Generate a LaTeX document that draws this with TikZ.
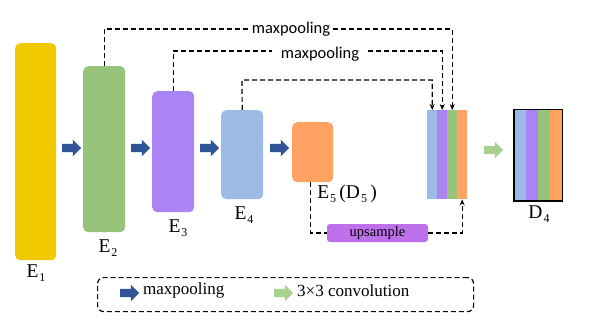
\documentclass[tikz,border=0pt]{standalone}
\usepackage{fontspec}
\setmainfont{Liberation Serif}
\newfontfamily\labfont{Carlito}
\usetikzlibrary{shapes.arrows,arrows.meta}
\definecolor{cyel}{RGB}{240,200,0}
\definecolor{cgrn}{RGB}{152,195,122}
\definecolor{cpur}{RGB}{170,132,244}
\definecolor{cblu}{RGB}{155,187,230}
\definecolor{cora}{RGB}{255,162,98}
\definecolor{cups}{RGB}{190,112,235}
\definecolor{cdarr}{RGB}{47,85,151}
\definecolor{cgarr}{RGB}{169,209,142}
\newcommand{\sub}[1]{\kern1pt\raisebox{-4pt}{\fontsize{12}{12}\selectfont #1}}
\begin{document}
\begin{tikzpicture}[x=1pt,y=-1pt,
  blk/.style={rounded corners=5pt,draw=none,inner sep=0pt,anchor=north west},
  strip/.style={draw=none,inner sep=0pt,anchor=north west,minimum width=10pt},
  barrow/.style={single arrow,draw=none,fill=cdarr,inner sep=4pt,single arrow head extend=4pt,minimum height=19pt},
  garrow/.style={barrow,fill=cgarr},
  elab/.style={font=\fontsize{19.5}{19.5}\selectfont,inner sep=0pt},
  dsh/.style={line width=1.2pt,dash pattern=on 5pt off 3pt},
  dar/.style={dsh,-{Stealth[length=6pt,width=5pt]}},
  mlab/.style={font=\labfont\fontsize{16.5}{16.5}\selectfont,inner sep=0pt}
]
\useasboundingbox (0,0) rectangle (615,323);
% encoder blocks
\node[blk,fill=cyel,minimum width=41pt,minimum height=217pt] (e1) at (15,43) {};
\node[blk,fill=cgrn,minimum width=42pt,minimum height=166pt] (e2) at (83,66) {};
\node[blk,fill=cpur,minimum width=42pt,minimum height=121pt] (e3) at (152,91) {};
\node[blk,fill=cblu,minimum width=42pt,minimum height=89pt] (e4) at (221,110) {};
\node[blk,fill=cora,minimum width=41pt,minimum height=60pt] (e5) at (292,122) {};
% labels
\node[elab] (l1) at (36,273) {E\sub{1}};
\node[elab] (l2) at (108,248) {E\sub{2}};
\node[elab] (l3) at (178,228) {E\sub{3}};
\node[elab] (l4) at (244,215) {E\sub{4}};
\node[elab] (l5) at (347,194) {E\sub{5}\,(D\sub{5}\,)};
% maxpooling arrows
\node[barrow] (a1) at (69.5,148) {};
\node[barrow] (a2) at (138.5,148) {};
\node[barrow] (a3) at (207.5,148) {};
\node[barrow] (a4) at (277.5,148) {};
% concatenated stack
\node[strip,fill=cblu,minimum height=89pt] (s1) at (427,110) {};
\node[strip,fill=cpur,minimum height=89pt] (s2) at (437,110) {};
\node[strip,fill=cgrn,minimum height=89pt] (s3) at (447,110) {};
\node[strip,fill=cora,minimum height=89pt] (s4) at (457,110) {};
% conv arrow
\node[garrow] (ga) at (491.5,150) {};
% D4
\node[strip,fill=cblu,minimum width=12pt,minimum height=91pt] (d1) at (514,109.5) {};
\node[strip,fill=cpur,minimum width=12pt,minimum height=91pt] (d2) at (526,109.5) {};
\node[strip,fill=cgrn,minimum width=12pt,minimum height=91pt] (d3) at (538,109.5) {};
\node[strip,fill=cora,minimum width=12pt,minimum height=91pt] (d4) at (550,109.5) {};
\draw[black,line width=1.5pt] (d1.north west) rectangle (d4.south east);
\node[elab] (ld) at (539,214) {D\sub{4}};
% skip connections
\node[mlab,inner xsep=3pt] (m1) at (291,29) {maxpooling};
\node[mlab,inner xsep=9pt] (m2) at (320,54) {maxpooling};
\draw[dsh] (e2.north) |- (m1.west);
\draw[dar] (m1.east) -| (s3.north);
\draw[dsh] (e3.north) |- ([yshift=3pt]m2.west);
\draw[dar] ([yshift=3pt]m2.east) -| (s2.north);
\coordinate (c4) at (242,80);
\draw[dar] (e4.north) -- (c4) -| (s1.north);
% upsample
\node[fill=cups,rounded corners=3pt,minimum width=101pt,minimum height=18pt,inner sep=0pt,font=\fontsize{14.5}{14.5}\selectfont] (up) at (377.5,233) {upsample};
\draw[dsh] ([xshift=-2pt]e5.south) |- (up.west);
\draw[dar] (up.east) -| (s4.south);
% legend
\node[draw,dsh,rounded corners=6pt,minimum width=376pt,minimum height=34pt,inner sep=0pt,anchor=north west] (leg) at (97,277) {};
\node[barrow] (la) at (127.5,293) {};
\node[font=\fontsize{17}{17}\selectfont,inner sep=0pt,anchor=west] (lt1) at (143,290) {maxpooling};
\node[garrow] (lg) at (281.5,293) {};
\node[font=\fontsize{17}{17}\selectfont,inner sep=0pt,anchor=west] (lt2) at (297,291) {3×3 convolution};
\end{tikzpicture}
\end{document}
